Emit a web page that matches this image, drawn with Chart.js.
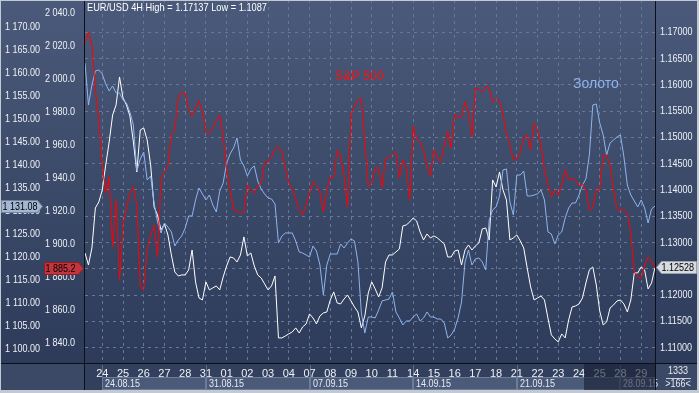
<!DOCTYPE html>
<html>
<head>
<meta charset="utf-8">
<script src="https://cdn.jsdelivr.net/npm/chart.js"></script>
<style>
    html, body { margin: 0; padding: 0; background: #2e3b58; }
    canvas { display: block; }
</style>
</head>
<body>
<canvas id="chart" width="699" height="393"></canvas>
<script>
// trading days shown on the 4H chart, 6 bars per day
const tradingDays = ['21.08.15', '24.08.15', '25.08.15', '26.08.15', '27.08.15', '28.08.15',
    '31.08.15', '01.09.15', '02.09.15', '03.09.15', '04.09.15',
    '07.09.15', '08.09.15', '09.09.15', '10.09.15', '11.09.15',
    '14.09.15', '15.09.15', '16.09.15', '17.09.15', '18.09.15',
    '21.09.15', '22.09.15', '23.09.15', '24.09.15', '25.09.15',
    '28.09.15', '29.09.15'];
const barHours = ['00', '04', '08', '12', '16', '20'];
const weekStarts = ['24.08.15', '31.08.15', '07.09.15', '14.09.15', '21.09.15', '28.09.15'];

// EUR/USD close, right axis
const eurusd = [
    1.12802, 1.12574, 1.12897, 1.13658, 1.13772, 1.14001, 1.14476, 1.14914, 1.15427, 1.15617,
    1.16150, 1.15750, 1.15617, 1.15408, 1.14914, 1.14343, 1.15142, 1.15180, 1.14952, 1.14476,
    1.13677, 1.13525, 1.13240, 1.13354, 1.13145, 1.12764, 1.12441, 1.12365, 1.12384, 1.12384,
    1.12479, 1.12859, 1.12251, 1.11946, 1.11908, 1.12251, 1.12099, 1.12137, 1.12175, 1.12099,
    1.12346, 1.12555, 1.12726, 1.12707, 1.12631, 1.12764, 1.13107, 1.12745, 1.12802, 1.12555,
    1.12384, 1.12327, 1.12213, 1.12099, 1.12175, 1.12365, 1.11186, 1.11186, 1.11224, 1.11262,
    1.11300, 1.11376, 1.11281, 1.11395, 1.11452, 1.11642, 1.11566, 1.11452, 1.11604, 1.11661,
    1.11680, 1.11908, 1.12061, 1.11851, 1.11832, 1.11927, 1.12003, 1.11889, 1.11775, 1.11680,
    1.11376, 1.11604, 1.12041, 1.12251, 1.12118, 1.11965, 1.12137, 1.12631, 1.12764, 1.12764,
    1.12821, 1.12878, 1.13316, 1.13335, 1.13392, 1.13468, 1.13411, 1.13202, 1.13050, 1.13164,
    1.13088, 1.13126, 1.13088, 1.13031, 1.12973, 1.12726, 1.12726, 1.12840, 1.12859, 1.12574,
    1.12859, 1.12954, 1.12859, 1.12935, 1.12992, 1.13259, 1.13278, 1.13050, 1.14191, 1.14058,
    1.14343, 1.14001, 1.13810, 1.13050, 1.13088, 1.13145, 1.13031, 1.12897, 1.12517, 1.12156,
    1.11908, 1.11946, 1.11984, 1.11908, 1.11566, 1.11243, 1.11167, 1.11110, 1.11262, 1.11186,
    1.11528, 1.11775, 1.11794, 1.11832, 1.11946, 1.12232, 1.12479, 1.12536, 1.12194, 1.11699,
    1.11433, 1.11490, 1.11756, 1.11813, 1.11889, 1.11908, 1.11832, 1.11680, 1.11908, 1.12422,
    1.12422, 1.12536, 1.12479, 1.12118, 1.12232, 1.12528
];

// gold, outer left axis
const gold = [
    1162.12, 1153.01, 1157.35, 1160.39, 1160.61, 1159.74, 1157.57, 1156.05, 1157.13, 1155.62,
    1155.62, 1154.10, 1153.45, 1151.49, 1148.67, 1138.69, 1141.30, 1142.81, 1136.74, 1137.61,
    1131.75, 1127.63, 1125.24, 1127.41, 1126.54, 1125.46, 1122.42, 1123.72, 1124.59, 1126.32,
    1128.93, 1128.93, 1132.40, 1135.00, 1133.70, 1132.40, 1133.48, 1131.31, 1129.80, 1134.35,
    1136.09, 1140.43, 1142.38, 1143.68, 1145.85, 1141.08, 1139.78, 1137.61, 1139.13, 1139.78,
    1136.52, 1134.79, 1133.70, 1132.83, 1132.62, 1131.53, 1123.07, 1124.59, 1125.24, 1125.24,
    1125.24, 1123.50, 1121.12, 1120.90, 1120.47, 1120.03, 1122.42, 1121.33, 1118.30, 1111.79,
    1118.30, 1120.68, 1120.68, 1120.68, 1122.85, 1121.98, 1123.07, 1123.94, 1123.50, 1118.95,
    1107.88, 1103.54, 1107.01, 1107.01, 1106.80, 1108.53, 1110.49, 1110.70, 1110.92, 1112.44,
    1108.10, 1106.80, 1105.28, 1106.15, 1106.15, 1107.01, 1107.66, 1106.15, 1106.80, 1108.10,
    1107.01, 1107.01, 1106.58, 1106.58, 1105.71, 1102.46, 1103.11, 1104.41, 1106.80, 1110.27,
    1118.95, 1121.55, 1118.30, 1119.60, 1119.82, 1118.95, 1117.21, 1128.06, 1130.23, 1130.88,
    1133.27, 1138.91, 1139.13, 1131.97, 1129.14, 1137.82, 1137.82, 1138.69, 1133.27, 1133.27,
    1133.48, 1133.70, 1134.57, 1132.40, 1125.46, 1125.02, 1122.85, 1124.81, 1125.46, 1128.49,
    1130.66, 1131.75, 1131.75, 1133.48, 1135.65, 1136.96, 1142.16, 1153.01, 1153.23, 1149.11,
    1146.50, 1142.16, 1144.77, 1145.42, 1146.07, 1146.50, 1141.73, 1135.65, 1133.48, 1132.18,
    1130.88, 1132.40, 1130.66, 1127.41, 1130.45, 1131.08
];

// S&P 500, inner left axis
const spx = [
    2021.6, 2028.3, 2020.4, 1993.1, 1975.0, 1947.7, 1930.7, 1940.4, 1898.0, 1926.5,
    1878.0, 1911.3, 1921.6, 1930.7, 1934.4, 1923.5, 1873.8, 1871.9, 1896.2, 1905.3,
    1911.3, 1891.9, 1938.6, 1943.5, 1946.5, 1966.5, 1968.9, 1988.9, 1991.9, 1991.3,
    1981.0, 1977.4, 1982.2, 1986.5, 1979.8, 1967.7, 1967.1, 1970.1, 1974.4, 1978.0,
    1964.7, 1944.7, 1932.5, 1920.4, 1919.8, 1918.6, 1919.2, 1935.6, 1932.5, 1930.7,
    1935.0, 1936.2, 1949.5, 1949.5, 1952.5, 1957.4, 1958.6, 1955.6, 1945.9, 1936.8,
    1933.1, 1927.7, 1920.4, 1917.4, 1923.5, 1930.7, 1937.4, 1935.0, 1931.3, 1919.2,
    1932.5, 1940.4, 1940.4, 1956.8, 1953.1, 1941.6, 1922.2, 1978.0, 1983.5, 1987.1,
    1987.7, 1961.6, 1934.4, 1936.8, 1945.9, 1945.9, 1933.8, 1951.3, 1951.9, 1954.4,
    1955.6, 1939.8, 1950.7, 1945.9, 1926.5, 1971.3, 1963.5, 1961.6, 1956.8, 1946.5,
    1941.0, 1956.8, 1952.5, 1949.5, 1959.2, 1968.3, 1958.0, 1978.6, 1976.8, 1976.8,
    1985.9, 1979.8, 1964.7, 1994.4, 1993.8, 1991.9, 1995.0, 1994.4, 1985.9, 1987.7,
    1986.5, 1978.6, 1966.5, 1959.8, 1950.7, 1951.3, 1955.6, 1964.7, 1965.9, 1956.8,
    1973.1, 1968.9, 1959.8, 1944.7, 1935.6, 1928.3, 1932.5, 1929.5, 1935.6, 1944.7,
    1938.6, 1939.8, 1938.6, 1935.0, 1936.2, 1932.5, 1920.4, 1921.6, 1932.5, 1932.5,
    1953.8, 1953.8, 1947.7, 1932.5, 1921.0, 1920.4, 1920.4, 1918.6, 1906.5, 1882.8,
    1879.8, 1879.2, 1887.1, 1891.9, 1889.5, 1885.2
];

const eurTicks = [1.11, 1.115, 1.12, 1.125, 1.13, 1.135, 1.14, 1.145, 1.15, 1.155, 1.16, 1.165, 1.17];
const goldTicks = [1100, 1105, 1110, 1115, 1120, 1125, 1130, 1135, 1140, 1145, 1150, 1155, 1160, 1165, 1170];
const spxTicks = [1840, 1860, 1880, 1900, 1920, 1940, 1960, 1980, 2000, 2020, 2040];

const titleText = 'EUR/USD 4H High = 1.17137 Low = 1.1087';
const spxName = 'S&P 500';
const goldName = 'Золото';
const barsTotal = '1333';
const barsShown = '>166<';

const SANS = "'Liberation Sans', Arial, sans-serif";
const LABEL_FONT = '11px ' + SANS;

// 4H bar labels: from 21.08 04:00 to 29.09 16:00
const barLabels = [];
tradingDays.forEach(d => barHours.forEach(h => barLabels.push(d + ' ' + h)));
barLabels.splice(0, 1);
barLabels.splice(166);

const isDayStart = (i) => barLabels[i] && barLabels[i].endsWith(' 00') && !barLabels[i].startsWith('21.08');

// thousands with a space, like the terminal does
const spaced = (v, d) => {
    const [a, b] = v.toFixed(d).split('.');
    return a.replace(/\B(?=(\d{3})+(?!\d))/g, ' ') + (b ? '.' + b : '');
};

// the terminal font is a narrow one, squeeze the text a bit
const narrow = (ctx, text, x, y, k = 0.82) => {
    ctx.fillText(text, x, y, ctx.measureText(text).width * k);
};

const fixBox = (w) => (scale) => {
    scale.width = w;
    scale.paddingTop = 0;
    scale.paddingBottom = 0;
};

const tag = (ctx, x0, x1, yc, tipLeft, fill, stroke, text) => {
    const h = 12, top = Math.round(yc - h / 2) + 0.5;
    ctx.beginPath();
    if (tipLeft) {
        ctx.moveTo(x0, top + h / 2);
        ctx.lineTo(x0 + 5, top);
        ctx.lineTo(x1, top);
        ctx.lineTo(x1, top + h);
        ctx.lineTo(x0 + 5, top + h);
    } else {
        ctx.moveTo(x0, top);
        ctx.lineTo(x1 - 5, top);
        ctx.lineTo(x1, top + h / 2);
        ctx.lineTo(x1 - 5, top + h);
        ctx.lineTo(x0, top + h);
    }
    ctx.closePath();
    ctx.fillStyle = fill;
    ctx.fill();
    ctx.strokeStyle = stroke;
    ctx.lineWidth = 1;
    ctx.stroke();
    ctx.fillStyle = '#000';
    ctx.font = LABEL_FONT;
    ctx.textAlign = 'left';
    ctx.textBaseline = 'middle';
    narrow(ctx, text, tipLeft ? x0 + 5 : x0 + 1, top + h / 2 + 0.5);
};

const terminalLook = {
    id: 'terminalLook',
    beforeDraw(chart) {
        const { ctx, chartArea, scales } = chart;
        const W = chart.width, H = chart.height;
        ctx.save();
        const g = ctx.createLinearGradient(0, 0, 0, H);
        g.addColorStop(0, '#4b5a7a');
        g.addColorStop(1, '#2b3857');
        ctx.fillStyle = g;
        ctx.fillRect(0, 0, W, H);

        // axis strip under the plot
        ctx.fillStyle = '#33405d';
        ctx.fillRect(chartArea.left, chartArea.bottom, chartArea.right - chartArea.left, H - chartArea.bottom);
        ctx.fillStyle = '#3b4966';
        ctx.fillRect(0, chartArea.bottom, chartArea.left, H - chartArea.bottom);
        ctx.fillRect(chartArea.right, chartArea.bottom, W - chartArea.right, H - chartArea.bottom);

        // week boxes
        const x = scales.x;
        const starts = [];
        barLabels.forEach((l, i) => {
            if (l.endsWith(' 00') && weekStarts.includes(l.slice(0, 8))) starts.push(i);
        });
        ctx.font = LABEL_FONT;
        ctx.textBaseline = 'middle';
        ctx.textAlign = 'left';
        starts.forEach((i, k) => {
            const x0 = Math.round(x.getPixelForValue(i));
            const x1 = k + 1 < starts.length ? Math.round(x.getPixelForValue(starts[k + 1])) : chartArea.right;
            ctx.fillStyle = 'rgba(95,112,142,0.55)';
            ctx.fillRect(x0, 377, x1 - x0, 13);
            ctx.strokeStyle = 'rgba(150,166,196,0.45)';
            ctx.strokeRect(x0 + 0.5, 377.5, x1 - x0 - 1, 12);
            ctx.beginPath();
            ctx.moveTo(x0 + 0.5, chartArea.bottom + 2);
            ctx.lineTo(x0 + 0.5, 377);
            ctx.stroke();
            ctx.fillStyle = '#e6eaf0';
            narrow(ctx, barLabels[i].slice(0, 8), x0 + 3, 384);
        });
        ctx.restore();
    },
    afterDraw(chart) {
        const { ctx, chartArea, scales } = chart;
        const W = chart.width, H = chart.height;
        ctx.save();

        // price axis labels
        ctx.font = LABEL_FONT;
        ctx.textBaseline = 'middle';
        ctx.fillStyle = '#eef1f5';
        ctx.textAlign = 'right';
        goldTicks.forEach(v => narrow(ctx, spaced(v, 2), 40, scales.yGold.getPixelForValue(v)));
        spxTicks.forEach(v => narrow(ctx, spaced(v, 1), 75, scales.ySpx.getPixelForValue(v)));
        ctx.textAlign = 'left';
        eurTicks.forEach(v => narrow(ctx, v.toFixed(5), chartArea.right + 5, scales.yEur.getPixelForValue(v)));

        // dimmed selection at the right of the time axis
        const shadeFrom = Math.round(scales.x.getPixelForValue(144.4));
        ctx.fillStyle = 'rgba(24,32,54,0.62)';
        ctx.fillRect(shadeFrom, chartArea.bottom + 1, chartArea.right - shadeFrom, 390 - chartArea.bottom - 1);

        // frame lines
        ctx.fillStyle = '#0b0f18';
        ctx.fillRect(chartArea.left - 1, 0, 1, 390);
        ctx.fillRect(chartArea.right, 0, 1, 390);
        ctx.fillRect(0, chartArea.bottom, W, 1);
        ctx.fillStyle = '#c3c9d3';
        ctx.fillRect(0, 0, W, 1);
        ctx.fillRect(0, 0, 1, H);
        ctx.fillRect(W - 2, 0, 2, H);
        ctx.fillRect(0, 390, W, 3);

        // title and series names
        ctx.textAlign = 'left';
        ctx.textBaseline = 'middle';
        ctx.fillStyle = '#ffffff';
        ctx.font = LABEL_FONT;
        ctx.fillText(titleText, chartArea.left + 2, 8, 180);
        ctx.fillStyle = '#ff1010';
        ctx.font = '13px ' + SANS;
        ctx.fillText(spxName, 335, 76, 49);
        ctx.fillStyle = '#8fb3ea';
        ctx.font = '14px ' + SANS;
        ctx.fillText(goldName, 573, 84, 47);

        // last price tags
        const last = eurusd.length - 1;
        tag(ctx, 1.5, 42.5, scales.yGold.getPixelForValue(gold[last]), false, '#a3b7d3', '#71849f', spaced(gold[last], 2));
        tag(ctx, 44.5, 83.5, scales.ySpx.getPixelForValue(spx[last]), false, '#c4343d', '#8e1f26', spaced(spx[last], 1));
        tag(ctx, 656.5, 696.5, scales.yEur.getPixelForValue(eurusd[last]), true, '#d6dae1', '#9aa2ae', eurusd[last].toFixed(5));

        // bar counters in the corner
        ctx.fillStyle = '#e6eaf0';
        ctx.textAlign = 'center';
        ctx.font = LABEL_FONT;
        narrow(ctx, barsTotal, 678, 371);
        narrow(ctx, barsShown, 678, 384);
        ctx.fillStyle = '#c8d0dc';
        ctx.fillRect(666, 378, 25, 1);
        ctx.restore();
    }
};

Chart.defaults.font.family = SANS;
Chart.defaults.font.size = 11;

const gridColor = '#66779a';

new Chart(document.getElementById('chart'), {
    type: 'line',
    data: {
        labels: barLabels,
        datasets: [
            { label: spxName, data: spx, yAxisID: 'ySpx', borderColor: '#ff0000' },
            { label: goldName, data: gold, yAxisID: 'yGold', borderColor: '#8db5ef' },
            { label: 'EUR/USD', data: eurusd, yAxisID: 'yEur', borderColor: '#ffffff' }
        ]
    },
    options: {
        responsive: false,
        animation: false,
        events: [],
        layout: { padding: 0 },
        elements: {
            point: { radius: 0 },
            line: { borderWidth: 1, tension: 0 }
        },
        plugins: {
            legend: { display: false },
            tooltip: { enabled: false }
        },
        scales: {
            x: {
                type: 'category',
                offset: false,
                afterFit: (scale) => {
                    scale.height = 30;
                    scale.paddingLeft = 0;
                    scale.paddingRight = 0;
                },
                grid: {
                    drawTicks: false,
                    color: (c) => isDayStart(c.index) ? gridColor : 'rgba(0,0,0,0)'
                },
                border: { display: false, dash: [3, 4] },
                ticks: {
                    autoSkip: false,
                    maxRotation: 0,
                    minRotation: 0,
                    padding: 4,
                    color: '#eef1f5',
                    callback: function (v, i) {
                        return isDayStart(i) ? this.getLabelForValue(v).slice(0, 2) : '';
                    }
                }
            },
            // the three price scales; their labels are painted by the plugin
            yEur: {
                position: 'right',
                min: 1.10709,
                max: 1.17614,
                afterBuildTicks: (s) => { s.ticks = eurTicks.map(v => ({ value: v })); },
                afterFit: fixBox(44),
                grid: { drawTicks: false, color: gridColor },
                border: { display: false, dash: [3, 4] },
                ticks: { display: false }
            },
            ySpx: {
                position: 'left',
                weight: 1,
                min: 1827.70,
                max: 2047.70,
                afterFit: fixBox(42),
                grid: { display: false },
                border: { display: false },
                ticks: { display: false }
            },
            yGold: {
                position: 'left',
                weight: 2,
                min: 1097.03,
                max: 1175.79,
                afterFit: fixBox(43),
                grid: { display: false },
                border: { display: false },
                ticks: { display: false }
            }
        }
    },
    plugins: [terminalLook]
});
</script>
</body>
</html>
